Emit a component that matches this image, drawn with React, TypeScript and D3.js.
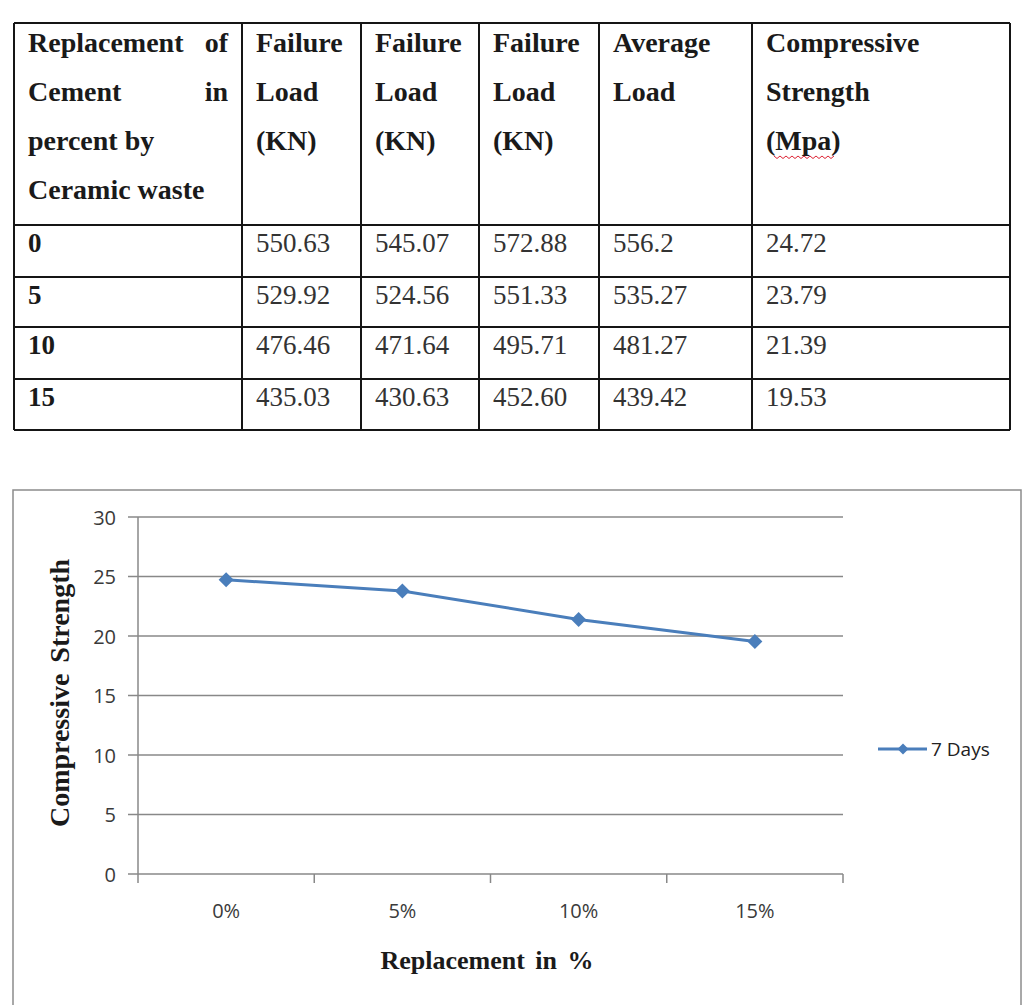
import React from "react";
import * as d3 from "d3";

// ---------- data ----------
const headerCol1 = ["Replacement", "Cement", "percent by", "Ceramic waste"];
const headerCols = [
  ["Failure", "Load", "(KN)"],
  ["Failure", "Load", "(KN)"],
  ["Failure", "Load", "(KN)"],
  ["Average", "Load"],
  ["Compressive", "Strength", "(Mpa)"],
];
const replacementPct = ["0", "5", "10", "15"];
const failureLoad1 = ["550.63", "529.92", "476.46", "435.03"];
const failureLoad2 = ["545.07", "524.56", "471.64", "430.63"];
const failureLoad3 = ["572.88", "551.33", "495.71", "452.60"];
const averageLoad = ["556.2", "535.27", "481.27", "439.42"];
const compressiveStrength = [24.72, 23.79, 21.39, 19.53];

const categories = ["0%", "5%", "10%", "15%"];
const yTicks = [0, 5, 10, 15, 20, 25, 30];
const seriesName = "7 Days";

// ---------- layout ----------
const W = 1031;
const H = 1005;
const colX = [14, 242, 361, 479, 599, 752, 1010];
const rowY = [23, 225, 277, 327, 379, 430];
const serif = "'Liberation Serif', 'Times New Roman', serif";
const sans = "'Open Sans', 'Noto Sans', sans-serif";
const blue = "#4A7EBB";

export default function App() {
  const x = d3.scaleBand<string>().domain(categories).range([138, 843]);
  const y = d3.scaleLinear().domain([0, 30]).range([874, 517]);
  const line = d3
    .line<number>()
    .x((_, i) => (x(categories[i]) as number) + x.bandwidth() / 2)
    .y((d) => y(d));
  const diamond = (cx: number, cy: number, r: number) =>
    `M${cx},${cy - r}L${cx + r},${cy}L${cx},${cy + r}L${cx - r},${cy}Z`;

  const rows = replacementPct.map((p, i) => [
    p,
    failureLoad1[i],
    failureLoad2[i],
    failureLoad3[i],
    averageLoad[i],
    compressiveStrength[i].toFixed(2),
  ]);

  const headerBase = [52, 101, 150, 199];
  const boundaries = categories.map((c) => x(c) as number).concat([843]);

  // red wavy spell-check underline under "Mpa"
  const wave: [number, number][] = [];
  for (let k = 0; k <= 20; k++) wave.push([774 + k * 3, 156 + (k % 2 === 0 ? 0 : 2.5)]);
  const wavePath = d3.line()(wave) as string;

  return (
    <svg
      width={W}
      height={H}
      style={{ position: "absolute", left: 0, top: 0, background: "#fff" }}
    >
      <rect x={0} y={0} width={W} height={H} fill="#fff" />
      {/* ---------- table ---------- */}
      <g stroke="#151515" strokeWidth={2}>
        {colX.map((cx, i) => (
          <line key={"c" + i} x1={cx} x2={cx} y1={rowY[0]} y2={rowY[rowY.length - 1]} />
        ))}
        {rowY.map((ry, i) => (
          <line key={"r" + i} x1={colX[0]} x2={colX[colX.length - 1]} y1={ry} y2={ry} />
        ))}
      </g>
      <g fontFamily={serif} fontWeight="bold" fontSize={28} fill="#1a1a1a">
        <text x={28} y={headerBase[0]}>{headerCol1[0]}</text>
        <text x={228} y={headerBase[0]} textAnchor="end">of</text>
        <text x={28} y={headerBase[1]}>{headerCol1[1]}</text>
        <text x={228} y={headerBase[1]} textAnchor="end">in</text>
        <text x={28} y={headerBase[2]}>{headerCol1[2]}</text>
        <text x={28} y={headerBase[3]}>{headerCol1[3]}</text>
        {headerCols.map((lines, ci) =>
          lines.map((t, li) => (
            <text key={ci + "-" + li} x={colX[ci + 1] + 14} y={headerBase[li]}>
              {t}
            </text>
          ))
        )}
      </g>
      <path d={wavePath} fill="none" stroke="#d23" strokeWidth={1} />
      {rows.map((r, ri) =>
        r.map((t, ci) => (
          <text
            key={ri + "-" + ci}
            x={colX[ci] + 14}
            y={rowY[ri + 1] + 27}
            fontFamily={serif}
            fontSize={27}
            fontWeight={ci === 0 ? "bold" : "normal"}
            fill={ci === 0 ? "#1a1a1a" : "#333"}
          >
            {t}
          </text>
        ))
      )}

      {/* ---------- chart ---------- */}
      <rect x={13} y={490} width={1008} height={520} fill="none" stroke="#8c8c8c" strokeWidth={1.5} />
      <g stroke="#888" strokeWidth={1.5}>
        {yTicks.map((t) => (
          <line key={"g" + t} x1={128} x2={843} y1={y(t)} y2={y(t)} />
        ))}
        <line x1={138} x2={138} y1={y(30)} y2={y(0)} />
        {boundaries.map((bx, i) => (
          <line key={"xt" + i} x1={bx} x2={bx} y1={y(0)} y2={y(0) + 9} />
        ))}
      </g>
      <g fontFamily={sans} fontSize={20} fill="#3a3a3a">
        {yTicks.map((t) => (
          <text key={"yl" + t} x={116} y={y(t)} textAnchor="end" dominantBaseline="central">
            {t}
          </text>
        ))}
        {categories.map((c) => (
          <text key={"xl" + c} x={(x(c) as number) + x.bandwidth() / 2} y={918} textAnchor="middle">
            {c}
          </text>
        ))}
      </g>
      <path d={line(compressiveStrength) as string} fill="none" stroke={blue} strokeWidth={3} />
      {compressiveStrength.map((v, i) => (
        <path
          key={"m" + i}
          d={diamond((x(categories[i]) as number) + x.bandwidth() / 2, y(v), 7.5)}
          fill={blue}
        />
      ))}
      {/* legend */}
      <line x1={878} x2={927} y1={749} y2={749} stroke={blue} strokeWidth={3} />
      <path d={diamond(903, 749, 5.5)} fill={blue} />
      <text x={931} y={749} dominantBaseline="central" fontFamily={sans} fontSize={19} fill="#222">
        {seriesName}
      </text>
      {/* axis titles */}
      <text
        x={487}
        y={969}
        textAnchor="middle"
        fontFamily={serif}
        fontWeight="bold"
        fontSize={26}
        wordSpacing={4}
        fill="#1a1a1a"
      >
        Replacement in %
      </text>
      <text
        transform="translate(69,693) rotate(-90)"
        textAnchor="middle"
        fontFamily={serif}
        fontWeight="bold"
        fontSize={28}
        wordSpacing={4}
        fill="#1a1a1a"
      >
        Compressive Strength
      </text>
    </svg>
  );
}
